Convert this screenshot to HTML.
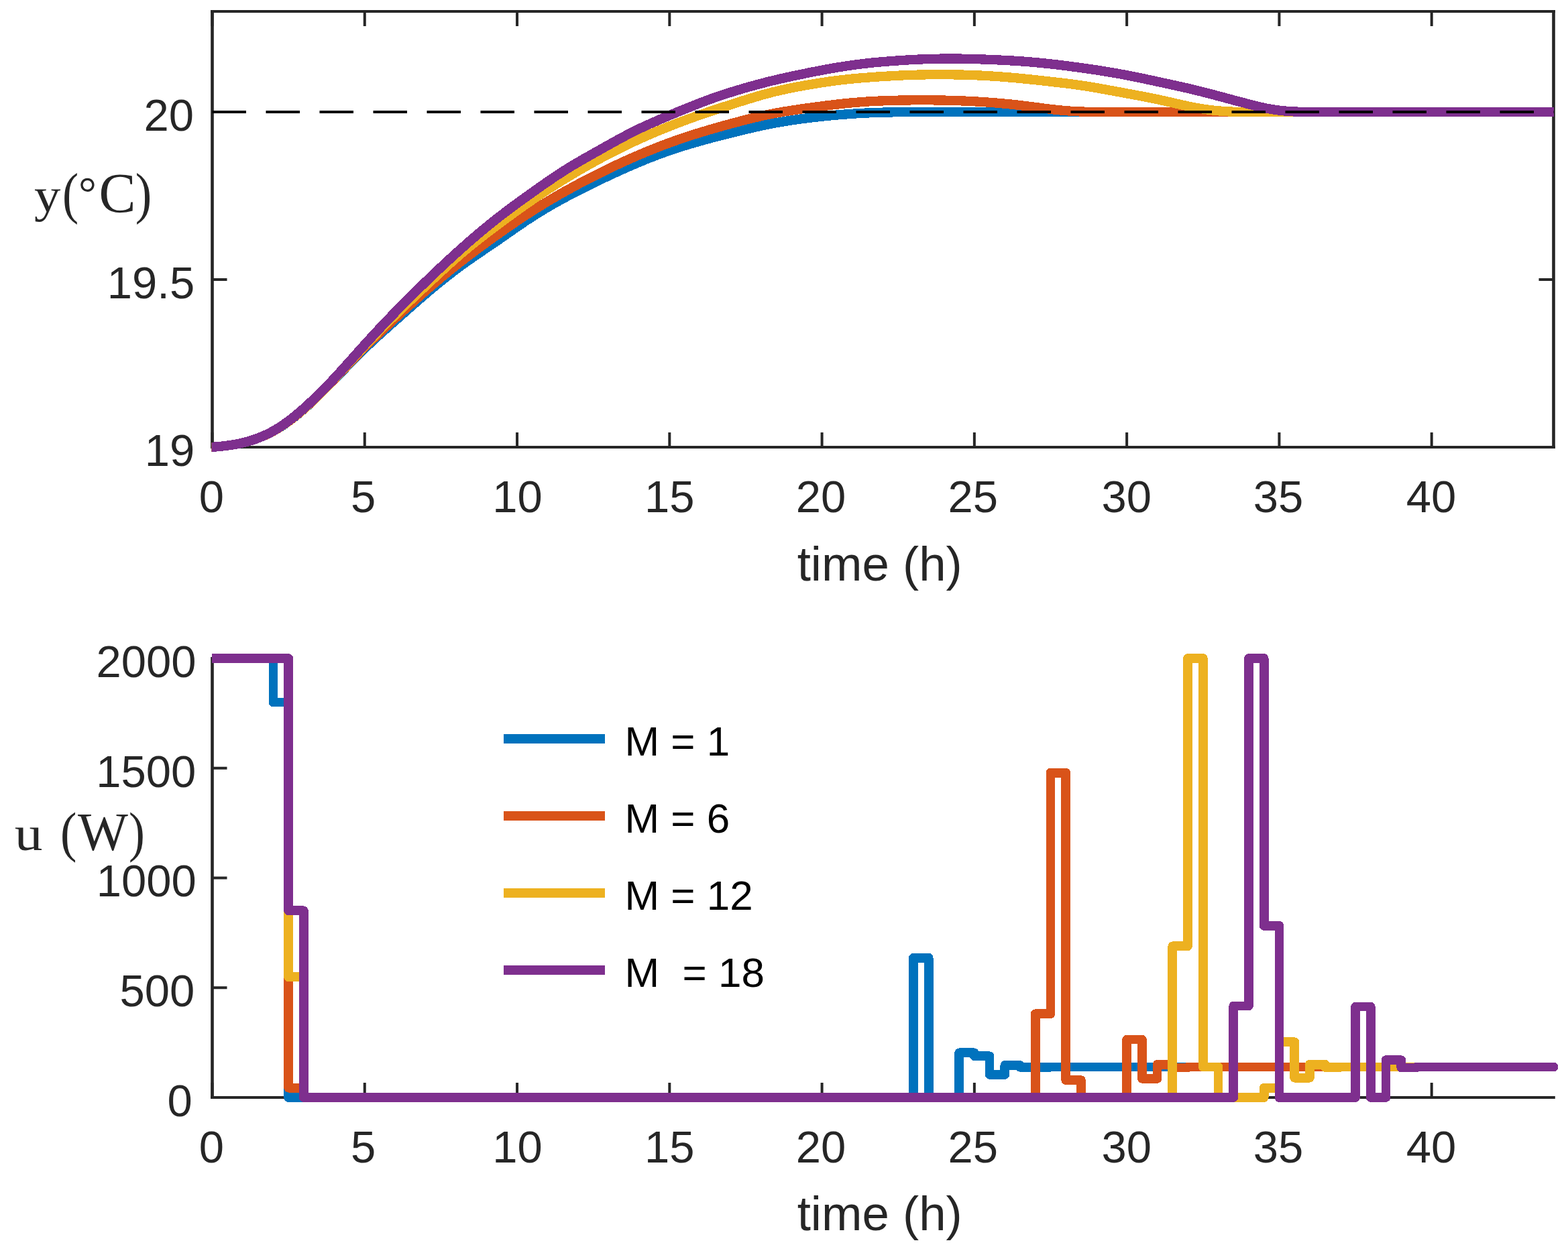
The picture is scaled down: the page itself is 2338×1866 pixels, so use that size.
<!DOCTYPE html>
<html><head><meta charset="utf-8"><title>Temperature and heating power</title>
<style>html,body{margin:0;padding:0;background:#fff;}svg{display:block;}.tk{font-family:"Liberation Sans",Arial,Helvetica,sans-serif;font-size:67px;fill:#262626;}.lb{font-family:"Liberation Sans",Arial,Helvetica,sans-serif;font-size:72.6px;fill:#262626;}.lg{font-family:"Liberation Sans",Arial,Helvetica,sans-serif;font-size:62px;fill:#000;white-space:pre;}.tex{font-family:"Liberation Serif","Times New Roman",serif;font-size:80px;fill:#262626;}</style></head><body>
<svg width="2338" height="1866" viewBox="0 0 2338 1866">
<rect x="0" y="0" width="2338" height="1866" fill="#fff"/>
<defs>
<clipPath id="cT"><rect x="315.5" y="10" width="2001.5" height="667"/></clipPath>
<clipPath id="cB"><rect x="316" y="900" width="2100" height="800"/></clipPath>
</defs>
<g fill="#262626">
<rect x="314.2" y="15.0" width="4.6" height="654.0"/>
<rect x="2314.2" y="15.0" width="4.6" height="654.0"/>
<rect x="314.2" y="15.0" width="2004.6" height="4"/>
<rect x="314.2" y="665.0" width="2004.6" height="4"/>
<rect x="314.50" y="645.0" width="4" height="22"/>
<rect x="314.50" y="17.0" width="4" height="22"/>
<rect x="541.77" y="645.0" width="4" height="22"/>
<rect x="541.77" y="17.0" width="4" height="22"/>
<rect x="769.05" y="645.0" width="4" height="22"/>
<rect x="769.05" y="17.0" width="4" height="22"/>
<rect x="996.32" y="645.0" width="4" height="22"/>
<rect x="996.32" y="17.0" width="4" height="22"/>
<rect x="1223.59" y="645.0" width="4" height="22"/>
<rect x="1223.59" y="17.0" width="4" height="22"/>
<rect x="1450.86" y="645.0" width="4" height="22"/>
<rect x="1450.86" y="17.0" width="4" height="22"/>
<rect x="1678.14" y="645.0" width="4" height="22"/>
<rect x="1678.14" y="17.0" width="4" height="22"/>
<rect x="1905.41" y="645.0" width="4" height="22"/>
<rect x="1905.41" y="17.0" width="4" height="22"/>
<rect x="2132.68" y="645.0" width="4" height="22"/>
<rect x="2132.68" y="17.0" width="4" height="22"/>
<rect x="316.5" y="665.00" width="22" height="4"/>
<rect x="2294.5" y="665.00" width="22" height="4"/>
<rect x="316.5" y="415.00" width="22" height="4"/>
<rect x="2294.5" y="415.00" width="22" height="4"/>
<rect x="316.5" y="165.00" width="22" height="4"/>
<rect x="2294.5" y="165.00" width="22" height="4"/>
</g>
<g clip-path="url(#cT)" fill="none" stroke-width="14.3" stroke-linejoin="round" stroke-linecap="round" shape-rendering="crispEdges">
<path d="M312.0,667.32 L315.0,667.06 L318.0,666.79 L321.0,666.52 L324.0,666.25 L327.0,665.96 L330.0,665.66 L333.0,665.34 L336.0,664.99 L339.0,664.62 L342.0,664.21 L345.0,663.77 L348.0,663.28 L351.0,662.76 L354.0,662.19 L357.0,661.57 L360.0,660.90 L363.0,660.18 L366.0,659.42 L369.0,658.61 L372.0,657.74 L375.0,656.83 L378.0,655.86 L381.0,654.83 L384.0,653.75 L387.0,652.61 L390.0,651.41 L393.0,650.14 L396.0,648.82 L399.0,647.42 L402.0,645.96 L405.0,644.42 L408.0,642.81 L411.0,641.13 L414.0,639.37 L417.0,637.55 L420.0,635.65 L423.0,633.68 L426.0,631.64 L429.0,629.53 L432.0,627.35 L435.0,625.11 L438.0,622.80 L441.0,620.42 L444.0,617.99 L447.0,615.49 L450.0,612.94 L453.0,610.33 L456.0,607.67 L459.0,604.96 L462.0,602.21 L465.0,599.41 L468.0,596.57 L471.0,593.69 L474.0,590.78 L477.0,587.84 L480.0,584.86 L483.0,581.86 L486.0,578.83 L489.0,575.78 L492.0,572.72 L495.0,569.64 L498.0,566.54 L501.0,563.43 L504.0,560.32 L507.0,557.21 L510.0,554.09 L513.0,550.98 L516.0,547.87 L519.0,544.77 L522.0,541.68 L525.0,538.60 L528.0,535.55 L531.0,532.51 L534.0,529.50 L537.0,526.51 L540.0,523.56 L543.0,520.64 L546.0,517.74 L549.0,514.88 L552.0,512.05 L555.0,509.23 L558.0,506.45 L561.0,503.68 L564.0,500.93 L567.0,498.20 L570.0,495.49 L573.0,492.78 L576.0,490.09 L579.0,487.41 L582.0,484.73 L585.0,482.06 L588.0,479.40 L591.0,476.73 L594.0,474.07 L597.0,471.40 L600.0,468.74 L603.0,466.08 L606.0,463.43 L609.0,460.78 L612.0,458.14 L615.0,455.50 L618.0,452.87 L621.0,450.26 L624.0,447.65 L627.0,445.05 L630.0,442.46 L633.0,439.89 L636.0,437.33 L639.0,434.79 L642.0,432.26 L645.0,429.75 L648.0,427.25 L651.0,424.78 L654.0,422.32 L657.0,419.88 L660.0,417.46 L663.0,415.06 L666.0,412.68 L669.0,410.33 L672.0,407.99 L675.0,405.68 L678.0,403.39 L681.0,401.12 L684.0,398.88 L687.0,396.66 L690.0,394.47 L693.0,392.30 L696.0,390.16 L699.0,388.04 L702.0,385.94 L705.0,383.85 L708.0,381.78 L711.0,379.72 L714.0,377.68 L717.0,375.64 L720.0,373.60 L723.0,371.57 L726.0,369.54 L729.0,367.50 L732.0,365.47 L735.0,363.42 L738.0,361.37 L741.0,359.31 L744.0,357.24 L747.0,355.15 L750.0,353.07 L753.0,350.97 L756.0,348.87 L759.0,346.78 L762.0,344.68 L765.0,342.59 L768.0,340.50 L771.0,338.43 L774.0,336.36 L777.0,334.30 L780.0,332.27 L783.0,330.24 L786.0,328.24 L789.0,326.26 L792.0,324.31 L795.0,322.37 L798.0,320.47 L801.0,318.58 L804.0,316.72 L807.0,314.88 L810.0,313.06 L813.0,311.26 L816.0,309.48 L819.0,307.72 L822.0,305.98 L825.0,304.26 L828.0,302.56 L831.0,300.88 L834.0,299.21 L837.0,297.56 L840.0,295.92 L843.0,294.30 L846.0,292.70 L849.0,291.11 L852.0,289.53 L855.0,287.97 L858.0,286.42 L861.0,284.88 L864.0,283.35 L867.0,281.83 L870.0,280.32 L873.0,278.83 L876.0,277.34 L879.0,275.86 L882.0,274.39 L885.0,272.93 L888.0,271.47 L891.0,270.02 L894.0,268.58 L897.0,267.14 L900.0,265.71 L903.0,264.29 L906.0,262.87 L909.0,261.46 L912.0,260.06 L915.0,258.67 L918.0,257.29 L921.0,255.91 L924.0,254.55 L927.0,253.19 L930.0,251.85 L933.0,250.51 L936.0,249.19 L939.0,247.87 L942.0,246.57 L945.0,245.28 L948.0,244.00 L951.0,242.73 L954.0,241.47 L957.0,240.23 L960.0,239.00 L963.0,237.78 L966.0,236.58 L969.0,235.39 L972.0,234.22 L975.0,233.05 L978.0,231.91 L981.0,230.78 L984.0,229.66 L987.0,228.56 L990.0,227.48 L993.0,226.41 L996.0,225.35 L999.0,224.32 L1002.0,223.30 L1005.0,222.29 L1008.0,221.30 L1011.0,220.32 L1014.0,219.35 L1017.0,218.40 L1020.0,217.46 L1023.0,216.54 L1026.0,215.62 L1029.0,214.72 L1032.0,213.83 L1035.0,212.95 L1038.0,212.08 L1041.0,211.22 L1044.0,210.37 L1047.0,209.53 L1050.0,208.70 L1053.0,207.88 L1056.0,207.07 L1059.0,206.26 L1062.0,205.47 L1065.0,204.68 L1068.0,203.89 L1071.0,203.12 L1074.0,202.35 L1077.0,201.58 L1080.0,200.82 L1083.0,200.07 L1086.0,199.32 L1089.0,198.58 L1092.0,197.84 L1095.0,197.10 L1098.0,196.36 L1101.0,195.63 L1104.0,194.90 L1107.0,194.18 L1110.0,193.46 L1113.0,192.74 L1116.0,192.03 L1119.0,191.33 L1122.0,190.63 L1125.0,189.95 L1128.0,189.27 L1131.0,188.60 L1134.0,187.94 L1137.0,187.29 L1140.0,186.65 L1143.0,186.03 L1146.0,185.42 L1149.0,184.82 L1152.0,184.24 L1155.0,183.67 L1158.0,183.12 L1161.0,182.58 L1164.0,182.05 L1167.0,181.54 L1170.0,181.04 L1173.0,180.55 L1176.0,180.08 L1179.0,179.61 L1182.0,179.16 L1185.0,178.72 L1188.0,178.29 L1191.0,177.87 L1194.0,177.46 L1197.0,177.06 L1200.0,176.67 L1203.0,176.29 L1206.0,175.92 L1209.0,175.55 L1212.0,175.20 L1215.0,174.85 L1218.0,174.51 L1221.0,174.18 L1224.0,173.86 L1227.0,173.54 L1230.0,173.23 L1233.0,172.93 L1236.0,172.64 L1239.0,172.35 L1242.0,172.07 L1245.0,171.80 L1248.0,171.54 L1251.0,171.28 L1254.0,171.03 L1257.0,170.79 L1260.0,170.55 L1263.0,170.32 L1266.0,170.10 L1269.0,169.89 L1272.0,169.68 L1275.0,169.48 L1278.0,169.29 L1281.0,169.11 L1284.0,168.94 L1287.0,168.78 L1290.0,168.62 L1293.0,168.47 L1296.0,168.34 L1299.0,168.21 L1302.0,168.09 L1305.0,167.98 L1308.0,167.88 L1311.0,167.79 L1314.0,167.71 L1317.0,167.63 L1320.0,167.56 L1323.0,167.50 L1326.0,167.44 L1329.0,167.39 L1332.0,167.35 L1335.0,167.31 L1338.0,167.27 L1341.0,167.24 L1344.0,167.21 L1347.0,167.18 L1350.0,167.16 L1353.0,167.14 L1356.0,167.12 L1359.0,167.10 L1362.0,167.08 L1365.0,167.07 L1368.0,167.05 L1371.0,167.04 L1374.0,167.03 L1377.0,167.02 L1380.0,167.02 L1383.0,167.01 L1386.0,167.01 L1389.0,167.00 L1392.0,167.00 L1395.0,167.00 L1398.0,167.00 L1401.0,167.00 L1404.0,167.00 L1407.0,167.00 L1410.0,167.00 L1413.0,167.00 L1416.0,167.00 L1419.0,167.01 L1422.0,167.01 L1425.0,167.02 L1428.0,167.02 L1431.0,167.03 L1434.0,167.03 L1437.0,167.04 L1440.0,167.05 L1443.0,167.05 L1446.0,167.06 L1449.0,167.07 L1452.0,167.08 L1455.0,167.08 L1458.0,167.09 L1461.0,167.10 L1464.0,167.11 L1467.0,167.12 L1470.0,167.12 L1473.0,167.13 L1476.0,167.14 L1479.0,167.15 L1482.0,167.16 L1485.0,167.16 L1488.0,167.17 L1491.0,167.18 L1494.0,167.18 L1497.0,167.19 L1500.0,167.20 L1503.0,167.20 L1506.0,167.21 L1509.0,167.21 L1512.0,167.22 L1515.0,167.22 L1518.0,167.22 L1521.0,167.23 L1524.0,167.23 L1527.0,167.23 L1530.0,167.24 L1533.0,167.24 L1536.0,167.24 L1539.0,167.24 L1542.0,167.24 L1545.0,167.24 L1548.0,167.24 L1551.0,167.24 L1554.0,167.24 L1557.0,167.24 L1560.0,167.24 L1563.0,167.24 L1566.0,167.24 L1569.0,167.23 L1572.0,167.23 L1575.0,167.23 L1578.0,167.23 L1581.0,167.22 L1584.0,167.22 L1587.0,167.22 L1590.0,167.21 L1593.0,167.21 L1596.0,167.20 L1599.0,167.20 L1602.0,167.20 L1605.0,167.19 L1608.0,167.18 L1611.0,167.18 L1614.0,167.17 L1617.0,167.17 L1620.0,167.16 L1623.0,167.15 L1626.0,167.15 L1629.0,167.14 L1632.0,167.14 L1635.0,167.13 L1638.0,167.12 L1641.0,167.12 L1644.0,167.11 L1647.0,167.10 L1650.0,167.10 L1653.0,167.09 L1656.0,167.08 L1659.0,167.08 L1662.0,167.07 L1665.0,167.06 L1668.0,167.06 L1671.0,167.05 L1674.0,167.04 L1677.0,167.04 L1680.0,167.03 L1683.0,167.03 L1686.0,167.02 L1689.0,167.02 L1692.0,167.01 L1695.0,167.01 L1698.0,167.01 L1701.0,167.00 L1704.0,167.00 L1707.0,167.00 L1710.0,166.99 L1713.0,166.99 L1716.0,166.99 L1719.0,166.99 L1722.0,166.99 L1725.0,166.98 L1728.0,166.98 L1731.0,166.98 L1734.0,166.98 L1737.0,166.98 L1740.0,166.98 L1743.0,166.98 L1746.0,166.98 L1749.0,166.98 L1752.0,166.98 L1755.0,166.98 L1758.0,166.98 L1761.0,166.99 L1764.0,166.99 L1767.0,166.99 L1770.0,166.99 L1773.0,166.99 L1776.0,166.99 L1779.0,166.99 L1782.0,166.99 L1785.0,166.99 L1788.0,166.99 L1791.0,167.00 L1794.0,167.00 L1797.0,167.00 L1800.0,167.00 L1803.0,167.00 L1806.0,167.00 L1809.0,167.00 L1812.0,167.00 L1815.0,167.00 L1818.0,167.00 L1821.0,167.00 L1824.0,167.00 L1827.0,167.00 L1830.0,167.00 L1833.0,167.00 L1836.0,167.00 L1839.0,167.00 L1842.0,167.00 L1845.0,167.00 L1848.0,167.00 L1851.0,167.00 L1854.0,167.00 L1857.0,167.00 L1860.0,167.00 L1863.0,167.00 L1866.0,167.00 L1869.0,167.00 L1872.0,167.00 L1875.0,167.00 L1878.0,167.00 L1881.0,167.00 L1884.0,167.00 L1887.0,167.00 L1890.0,167.00 L1893.0,167.00 L1896.0,167.00 L1899.0,167.00 L1902.0,167.00 L1905.0,167.00 L1908.0,167.00 L1911.0,167.00 L1914.0,167.00 L1917.0,167.00 L1920.0,167.00 L1923.0,167.00 L1926.0,167.00 L1929.0,167.00 L1932.0,167.00 L1935.0,167.00 L1938.0,167.00 L1941.0,167.00 L1944.0,167.00 L1947.0,167.00 L1950.0,167.00 L1953.0,167.00 L1956.0,167.00 L1959.0,167.00 L1962.0,167.00 L1965.0,167.00 L1968.0,167.00 L1971.0,167.00 L1974.0,167.00 L1977.0,167.00 L1980.0,167.00 L1983.0,167.00 L1986.0,167.00 L1989.0,167.00 L1992.0,167.00 L1995.0,167.00 L1998.0,167.00 L2001.0,167.00 L2004.0,167.00 L2007.0,167.00 L2010.0,167.00 L2013.0,167.00 L2016.0,167.00 L2019.0,167.00 L2022.0,167.00 L2025.0,167.00 L2028.0,167.00 L2031.0,167.00 L2034.0,167.00 L2037.0,167.00 L2040.0,167.00 L2043.0,167.00 L2046.0,167.00 L2049.0,167.00 L2052.0,167.00 L2055.0,167.00 L2058.0,167.00 L2061.0,167.00 L2064.0,167.00 L2067.0,167.00 L2070.0,167.00 L2073.0,167.00 L2076.0,167.00 L2079.0,167.00 L2082.0,167.00 L2085.0,167.00 L2088.0,167.00 L2091.0,167.00 L2094.0,167.00 L2097.0,167.00 L2100.0,167.00 L2103.0,167.00 L2106.0,167.00 L2109.0,167.00 L2112.0,167.00 L2115.0,167.00 L2118.0,167.00 L2121.0,167.00 L2124.0,167.00 L2127.0,167.00 L2130.0,167.00 L2133.0,167.00 L2136.0,167.00 L2139.0,167.00 L2142.0,167.00 L2145.0,167.00 L2148.0,167.00 L2151.0,167.00 L2154.0,167.00 L2157.0,167.00 L2160.0,167.00 L2163.0,167.00 L2166.0,167.00 L2169.0,167.00 L2172.0,167.00 L2175.0,167.00 L2178.0,167.00 L2181.0,167.00 L2184.0,167.00 L2187.0,167.00 L2190.0,167.00 L2193.0,167.00 L2196.0,167.00 L2199.0,167.00 L2202.0,167.00 L2205.0,167.00 L2208.0,167.00 L2211.0,167.00 L2214.0,167.00 L2217.0,167.00 L2220.0,167.00 L2223.0,167.00 L2226.0,167.00 L2229.0,167.00 L2232.0,167.00 L2235.0,167.00 L2238.0,167.00 L2241.0,167.00 L2244.0,167.00 L2247.0,167.00 L2250.0,167.00 L2253.0,167.00 L2256.0,167.00 L2259.0,167.00 L2262.0,167.00 L2265.0,167.00 L2268.0,167.00 L2271.0,167.00 L2274.0,167.00 L2277.0,167.00 L2280.0,167.00 L2283.0,167.00 L2286.0,167.00 L2289.0,167.00 L2292.0,167.00 L2295.0,167.00 L2298.0,167.00 L2301.0,167.00 L2304.0,167.00 L2307.0,167.00 L2310.0,167.00 L2313.0,167.00 L2316.0,167.00 L2319.0,167.00 L2322.0,167.00" stroke="#0072BD"/>
<path d="M312.0,667.32 L315.0,667.06 L318.0,666.79 L321.0,666.52 L324.0,666.25 L327.0,665.96 L330.0,665.66 L333.0,665.34 L336.0,664.99 L339.0,664.62 L342.0,664.21 L345.0,663.77 L348.0,663.29 L351.0,662.76 L354.0,662.19 L357.0,661.57 L360.0,660.90 L363.0,660.19 L366.0,659.42 L369.0,658.61 L372.0,657.75 L375.0,656.83 L378.0,655.86 L381.0,654.83 L384.0,653.75 L387.0,652.60 L390.0,651.40 L393.0,650.13 L396.0,648.80 L399.0,647.39 L402.0,645.92 L405.0,644.37 L408.0,642.75 L411.0,641.06 L414.0,639.30 L417.0,637.46 L420.0,635.55 L423.0,633.57 L426.0,631.53 L429.0,629.41 L432.0,627.23 L435.0,624.98 L438.0,622.67 L441.0,620.30 L444.0,617.86 L447.0,615.37 L450.0,612.82 L453.0,610.21 L456.0,607.56 L459.0,604.85 L462.0,602.09 L465.0,599.29 L468.0,596.45 L471.0,593.56 L474.0,590.64 L477.0,587.67 L480.0,584.68 L483.0,581.65 L486.0,578.59 L489.0,575.50 L492.0,572.39 L495.0,569.25 L498.0,566.09 L501.0,562.92 L504.0,559.74 L507.0,556.54 L510.0,553.34 L513.0,550.14 L516.0,546.94 L519.0,543.74 L522.0,540.55 L525.0,537.37 L528.0,534.21 L531.0,531.06 L534.0,527.93 L537.0,524.83 L540.0,521.76 L543.0,518.72 L546.0,515.71 L549.0,512.73 L552.0,509.77 L555.0,506.84 L558.0,503.93 L561.0,501.05 L564.0,498.18 L567.0,495.33 L570.0,492.50 L573.0,489.69 L576.0,486.89 L579.0,484.10 L582.0,481.32 L585.0,478.55 L588.0,475.78 L591.0,473.02 L594.0,470.27 L597.0,467.52 L600.0,464.77 L603.0,462.04 L606.0,459.31 L609.0,456.58 L612.0,453.87 L615.0,451.16 L618.0,448.47 L621.0,445.78 L624.0,443.11 L627.0,440.45 L630.0,437.80 L633.0,435.16 L636.0,432.54 L639.0,429.93 L642.0,427.34 L645.0,424.77 L648.0,422.20 L651.0,419.66 L654.0,417.13 L657.0,414.62 L660.0,412.12 L663.0,409.63 L666.0,407.17 L669.0,404.72 L672.0,402.28 L675.0,399.87 L678.0,397.46 L681.0,395.08 L684.0,392.71 L687.0,390.36 L690.0,388.02 L693.0,385.70 L696.0,383.39 L699.0,381.11 L702.0,378.83 L705.0,376.57 L708.0,374.33 L711.0,372.09 L714.0,369.87 L717.0,367.67 L720.0,365.47 L723.0,363.28 L726.0,361.11 L729.0,358.94 L732.0,356.79 L735.0,354.64 L738.0,352.50 L741.0,350.37 L744.0,348.24 L747.0,346.12 L750.0,344.02 L753.0,341.92 L756.0,339.83 L759.0,337.75 L762.0,335.68 L765.0,333.62 L768.0,331.58 L771.0,329.54 L774.0,327.52 L777.0,325.51 L780.0,323.52 L783.0,321.54 L786.0,319.58 L789.0,317.63 L792.0,315.70 L795.0,313.78 L798.0,311.88 L801.0,310.00 L804.0,308.13 L807.0,306.28 L810.0,304.44 L813.0,302.62 L816.0,300.81 L819.0,299.02 L822.0,297.24 L825.0,295.48 L828.0,293.73 L831.0,291.99 L834.0,290.27 L837.0,288.56 L840.0,286.86 L843.0,285.18 L846.0,283.51 L849.0,281.85 L852.0,280.20 L855.0,278.57 L858.0,276.94 L861.0,275.33 L864.0,273.73 L867.0,272.14 L870.0,270.57 L873.0,269.00 L876.0,267.44 L879.0,265.90 L882.0,264.36 L885.0,262.84 L888.0,261.32 L891.0,259.81 L894.0,258.31 L897.0,256.83 L900.0,255.35 L903.0,253.88 L906.0,252.42 L909.0,250.97 L912.0,249.53 L915.0,248.10 L918.0,246.68 L921.0,245.27 L924.0,243.88 L927.0,242.49 L930.0,241.11 L933.0,239.75 L936.0,238.39 L939.0,237.05 L942.0,235.72 L945.0,234.40 L948.0,233.09 L951.0,231.79 L954.0,230.51 L957.0,229.23 L960.0,227.97 L963.0,226.72 L966.0,225.48 L969.0,224.26 L972.0,223.05 L975.0,221.85 L978.0,220.66 L981.0,219.48 L984.0,218.32 L987.0,217.17 L990.0,216.04 L993.0,214.92 L996.0,213.81 L999.0,212.71 L1002.0,211.63 L1005.0,210.55 L1008.0,209.50 L1011.0,208.45 L1014.0,207.41 L1017.0,206.39 L1020.0,205.38 L1023.0,204.38 L1026.0,203.38 L1029.0,202.40 L1032.0,201.44 L1035.0,200.48 L1038.0,199.53 L1041.0,198.59 L1044.0,197.66 L1047.0,196.74 L1050.0,195.83 L1053.0,194.93 L1056.0,194.03 L1059.0,193.15 L1062.0,192.27 L1065.0,191.40 L1068.0,190.54 L1071.0,189.69 L1074.0,188.84 L1077.0,188.01 L1080.0,187.17 L1083.0,186.35 L1086.0,185.53 L1089.0,184.72 L1092.0,183.91 L1095.0,183.12 L1098.0,182.32 L1101.0,181.53 L1104.0,180.75 L1107.0,179.97 L1110.0,179.21 L1113.0,178.44 L1116.0,177.69 L1119.0,176.95 L1122.0,176.21 L1125.0,175.49 L1128.0,174.78 L1131.0,174.08 L1134.0,173.39 L1137.0,172.72 L1140.0,172.06 L1143.0,171.41 L1146.0,170.79 L1149.0,170.17 L1152.0,169.58 L1155.0,169.00 L1158.0,168.44 L1161.0,167.89 L1164.0,167.36 L1167.0,166.84 L1170.0,166.33 L1173.0,165.84 L1176.0,165.35 L1179.0,164.88 L1182.0,164.42 L1185.0,163.96 L1188.0,163.51 L1191.0,163.07 L1194.0,162.64 L1197.0,162.21 L1200.0,161.78 L1203.0,161.36 L1206.0,160.94 L1209.0,160.53 L1212.0,160.12 L1215.0,159.71 L1218.0,159.31 L1221.0,158.92 L1224.0,158.53 L1227.0,158.14 L1230.0,157.76 L1233.0,157.39 L1236.0,157.02 L1239.0,156.66 L1242.0,156.31 L1245.0,155.96 L1248.0,155.62 L1251.0,155.29 L1254.0,154.96 L1257.0,154.64 L1260.0,154.33 L1263.0,154.03 L1266.0,153.74 L1269.0,153.46 L1272.0,153.18 L1275.0,152.92 L1278.0,152.66 L1281.0,152.42 L1284.0,152.19 L1287.0,151.96 L1290.0,151.75 L1293.0,151.55 L1296.0,151.36 L1299.0,151.18 L1302.0,151.01 L1305.0,150.85 L1308.0,150.71 L1311.0,150.57 L1314.0,150.45 L1317.0,150.33 L1320.0,150.22 L1323.0,150.12 L1326.0,150.02 L1329.0,149.93 L1332.0,149.84 L1335.0,149.76 L1338.0,149.69 L1341.0,149.63 L1344.0,149.57 L1347.0,149.51 L1350.0,149.46 L1353.0,149.42 L1356.0,149.38 L1359.0,149.35 L1362.0,149.33 L1365.0,149.31 L1368.0,149.29 L1371.0,149.28 L1374.0,149.28 L1377.0,149.28 L1380.0,149.28 L1383.0,149.29 L1386.0,149.31 L1389.0,149.33 L1392.0,149.36 L1395.0,149.39 L1398.0,149.43 L1401.0,149.48 L1404.0,149.53 L1407.0,149.59 L1410.0,149.65 L1413.0,149.72 L1416.0,149.80 L1419.0,149.88 L1422.0,149.97 L1425.0,150.07 L1428.0,150.17 L1431.0,150.29 L1434.0,150.40 L1437.0,150.53 L1440.0,150.66 L1443.0,150.80 L1446.0,150.94 L1449.0,151.10 L1452.0,151.26 L1455.0,151.42 L1458.0,151.60 L1461.0,151.78 L1464.0,151.97 L1467.0,152.17 L1470.0,152.37 L1473.0,152.59 L1476.0,152.81 L1479.0,153.03 L1482.0,153.27 L1485.0,153.51 L1488.0,153.76 L1491.0,154.02 L1494.0,154.29 L1497.0,154.57 L1500.0,154.85 L1503.0,155.14 L1506.0,155.44 L1509.0,155.75 L1512.0,156.07 L1515.0,156.40 L1518.0,156.73 L1521.0,157.08 L1524.0,157.43 L1527.0,157.80 L1530.0,158.17 L1533.0,158.55 L1536.0,158.94 L1539.0,159.33 L1542.0,159.72 L1545.0,160.11 L1548.0,160.51 L1551.0,160.90 L1554.0,161.29 L1557.0,161.67 L1560.0,162.05 L1563.0,162.42 L1566.0,162.79 L1569.0,163.14 L1572.0,163.48 L1575.0,163.80 L1578.0,164.11 L1581.0,164.41 L1584.0,164.69 L1587.0,164.95 L1590.0,165.20 L1593.0,165.43 L1596.0,165.64 L1599.0,165.83 L1602.0,166.01 L1605.0,166.17 L1608.0,166.32 L1611.0,166.45 L1614.0,166.56 L1617.0,166.66 L1620.0,166.75 L1623.0,166.83 L1626.0,166.89 L1629.0,166.95 L1632.0,166.99 L1635.0,167.02 L1638.0,167.05 L1641.0,167.07 L1644.0,167.09 L1647.0,167.10 L1650.0,167.10 L1653.0,167.11 L1656.0,167.11 L1659.0,167.11 L1662.0,167.11 L1665.0,167.11 L1668.0,167.10 L1671.0,167.10 L1674.0,167.09 L1677.0,167.09 L1680.0,167.08 L1683.0,167.07 L1686.0,167.06 L1689.0,167.05 L1692.0,167.04 L1695.0,167.04 L1698.0,167.03 L1701.0,167.02 L1704.0,167.01 L1707.0,167.01 L1710.0,167.00 L1713.0,167.00 L1716.0,166.99 L1719.0,166.99 L1722.0,166.98 L1725.0,166.98 L1728.0,166.98 L1731.0,166.98 L1734.0,166.97 L1737.0,166.97 L1740.0,166.97 L1743.0,166.97 L1746.0,166.97 L1749.0,166.97 L1752.0,166.97 L1755.0,166.97 L1758.0,166.97 L1761.0,166.98 L1764.0,166.98 L1767.0,166.98 L1770.0,166.98 L1773.0,166.98 L1776.0,166.98 L1779.0,166.98 L1782.0,166.99 L1785.0,166.99 L1788.0,166.99 L1791.0,166.99 L1794.0,166.99 L1797.0,167.00 L1800.0,167.00 L1803.0,167.00 L1806.0,167.00 L1809.0,167.00 L1812.0,167.00 L1815.0,167.00 L1818.0,167.00 L1821.0,167.00 L1824.0,167.00 L1827.0,167.01 L1830.0,167.01 L1833.0,167.01 L1836.0,167.01 L1839.0,167.01 L1842.0,167.01 L1845.0,167.01 L1848.0,167.01 L1851.0,167.01 L1854.0,167.01 L1857.0,167.01 L1860.0,167.01 L1863.0,167.01 L1866.0,167.00 L1869.0,167.00 L1872.0,167.00 L1875.0,167.00 L1878.0,167.00 L1881.0,167.00 L1884.0,167.00 L1887.0,167.00 L1890.0,167.00 L1893.0,167.00 L1896.0,167.00 L1899.0,167.00 L1902.0,167.00 L1905.0,167.00 L1908.0,167.00 L1911.0,167.00 L1914.0,167.00 L1917.0,167.00 L1920.0,167.00 L1923.0,167.00 L1926.0,167.00 L1929.0,167.00 L1932.0,167.00 L1935.0,167.00 L1938.0,167.00 L1941.0,167.00 L1944.0,167.00 L1947.0,167.00 L1950.0,167.00 L1953.0,167.00 L1956.0,167.00 L1959.0,167.00 L1962.0,167.00 L1965.0,167.00 L1968.0,167.00 L1971.0,167.00 L1974.0,167.00 L1977.0,167.00 L1980.0,167.00 L1983.0,167.00 L1986.0,167.00 L1989.0,167.00 L1992.0,167.00 L1995.0,167.00 L1998.0,167.00 L2001.0,167.00 L2004.0,167.00 L2007.0,167.00 L2010.0,167.00 L2013.0,167.00 L2016.0,167.00 L2019.0,167.00 L2022.0,167.00 L2025.0,167.00 L2028.0,167.00 L2031.0,167.00 L2034.0,167.00 L2037.0,167.00 L2040.0,167.00 L2043.0,167.00 L2046.0,167.00 L2049.0,167.00 L2052.0,167.00 L2055.0,167.00 L2058.0,167.00 L2061.0,167.00 L2064.0,167.00 L2067.0,167.00 L2070.0,167.00 L2073.0,167.00 L2076.0,167.00 L2079.0,167.00 L2082.0,167.00 L2085.0,167.00 L2088.0,167.00 L2091.0,167.00 L2094.0,167.00 L2097.0,167.00 L2100.0,167.00 L2103.0,167.00 L2106.0,167.00 L2109.0,167.00 L2112.0,167.00 L2115.0,167.00 L2118.0,167.00 L2121.0,167.00 L2124.0,167.00 L2127.0,167.00 L2130.0,167.00 L2133.0,167.00 L2136.0,167.00 L2139.0,167.00 L2142.0,167.00 L2145.0,167.00 L2148.0,167.00 L2151.0,167.00 L2154.0,167.00 L2157.0,167.00 L2160.0,167.00 L2163.0,167.00 L2166.0,167.00 L2169.0,167.00 L2172.0,167.00 L2175.0,167.00 L2178.0,167.00 L2181.0,167.00 L2184.0,167.00 L2187.0,167.00 L2190.0,167.00 L2193.0,167.00 L2196.0,167.00 L2199.0,167.00 L2202.0,167.00 L2205.0,167.00 L2208.0,167.00 L2211.0,167.00 L2214.0,167.00 L2217.0,167.00 L2220.0,167.00 L2223.0,167.00 L2226.0,167.00 L2229.0,167.00 L2232.0,167.00 L2235.0,167.00 L2238.0,167.00 L2241.0,167.00 L2244.0,167.00 L2247.0,167.00 L2250.0,167.00 L2253.0,167.00 L2256.0,167.00 L2259.0,167.00 L2262.0,167.00 L2265.0,167.00 L2268.0,167.00 L2271.0,167.00 L2274.0,167.00 L2277.0,167.00 L2280.0,167.00 L2283.0,167.00 L2286.0,167.00 L2289.0,167.00 L2292.0,167.00 L2295.0,167.00 L2298.0,167.00 L2301.0,167.00 L2304.0,167.00 L2307.0,167.00 L2310.0,167.00 L2313.0,167.00 L2316.0,167.00 L2319.0,167.00 L2322.0,167.00" stroke="#D95319"/>
<path d="M312.0,667.32 L315.0,667.05 L318.0,666.79 L321.0,666.52 L324.0,666.25 L327.0,665.96 L330.0,665.66 L333.0,665.34 L336.0,664.99 L339.0,664.62 L342.0,664.21 L345.0,663.77 L348.0,663.29 L351.0,662.77 L354.0,662.20 L357.0,661.58 L360.0,660.91 L363.0,660.20 L366.0,659.43 L369.0,658.62 L372.0,657.76 L375.0,656.84 L378.0,655.87 L381.0,654.84 L384.0,653.75 L387.0,652.60 L390.0,651.39 L393.0,650.12 L396.0,648.77 L399.0,647.36 L402.0,645.88 L405.0,644.32 L408.0,642.69 L411.0,640.98 L414.0,639.20 L417.0,637.35 L420.0,635.42 L423.0,633.43 L426.0,631.37 L429.0,629.24 L432.0,627.05 L435.0,624.79 L438.0,622.47 L441.0,620.09 L444.0,617.65 L447.0,615.16 L450.0,612.60 L453.0,610.00 L456.0,607.34 L459.0,604.64 L462.0,601.88 L465.0,599.08 L468.0,596.23 L471.0,593.34 L474.0,590.41 L477.0,587.43 L480.0,584.42 L483.0,581.38 L486.0,578.29 L489.0,575.18 L492.0,572.03 L495.0,568.85 L498.0,565.65 L501.0,562.42 L504.0,559.18 L507.0,555.92 L510.0,552.65 L513.0,549.37 L516.0,546.08 L519.0,542.79 L522.0,539.49 L525.0,536.21 L528.0,532.92 L531.0,529.65 L534.0,526.39 L537.0,523.15 L540.0,519.93 L543.0,516.73 L546.0,513.55 L549.0,510.39 L552.0,507.25 L555.0,504.14 L558.0,501.04 L561.0,497.96 L564.0,494.90 L567.0,491.86 L570.0,488.83 L573.0,485.83 L576.0,482.83 L579.0,479.85 L582.0,476.89 L585.0,473.94 L588.0,471.00 L591.0,468.08 L594.0,465.17 L597.0,462.27 L600.0,459.38 L603.0,456.50 L606.0,453.62 L609.0,450.76 L612.0,447.91 L615.0,445.06 L618.0,442.22 L621.0,439.39 L624.0,436.56 L627.0,433.73 L630.0,430.91 L633.0,428.10 L636.0,425.28 L639.0,422.47 L642.0,419.66 L645.0,416.85 L648.0,414.05 L651.0,411.25 L654.0,408.46 L657.0,405.68 L660.0,402.91 L663.0,400.15 L666.0,397.41 L669.0,394.68 L672.0,391.98 L675.0,389.29 L678.0,386.62 L681.0,383.98 L684.0,381.36 L687.0,378.76 L690.0,376.20 L693.0,373.66 L696.0,371.16 L699.0,368.68 L702.0,366.23 L705.0,363.80 L708.0,361.39 L711.0,359.01 L714.0,356.64 L717.0,354.30 L720.0,351.97 L723.0,349.66 L726.0,347.36 L729.0,345.08 L732.0,342.81 L735.0,340.55 L738.0,338.29 L741.0,336.05 L744.0,333.81 L747.0,331.58 L750.0,329.36 L753.0,327.14 L756.0,324.93 L759.0,322.74 L762.0,320.55 L765.0,318.37 L768.0,316.20 L771.0,314.04 L774.0,311.90 L777.0,309.76 L780.0,307.64 L783.0,305.53 L786.0,303.43 L789.0,301.34 L792.0,299.27 L795.0,297.21 L798.0,295.17 L801.0,293.14 L804.0,291.12 L807.0,289.12 L810.0,287.13 L813.0,285.15 L816.0,283.19 L819.0,281.24 L822.0,279.31 L825.0,277.38 L828.0,275.47 L831.0,273.58 L834.0,271.70 L837.0,269.83 L840.0,267.97 L843.0,266.13 L846.0,264.30 L849.0,262.49 L852.0,260.69 L855.0,258.90 L858.0,257.12 L861.0,255.36 L864.0,253.61 L867.0,251.88 L870.0,250.15 L873.0,248.44 L876.0,246.75 L879.0,245.06 L882.0,243.39 L885.0,241.74 L888.0,240.09 L891.0,238.46 L894.0,236.84 L897.0,235.23 L900.0,233.64 L903.0,232.06 L906.0,230.49 L909.0,228.94 L912.0,227.39 L915.0,225.86 L918.0,224.35 L921.0,222.84 L924.0,221.35 L927.0,219.87 L930.0,218.40 L933.0,216.95 L936.0,215.51 L939.0,214.08 L942.0,212.66 L945.0,211.25 L948.0,209.86 L951.0,208.48 L954.0,207.11 L957.0,205.75 L960.0,204.41 L963.0,203.08 L966.0,201.76 L969.0,200.45 L972.0,199.15 L975.0,197.87 L978.0,196.60 L981.0,195.33 L984.0,194.09 L987.0,192.85 L990.0,191.62 L993.0,190.41 L996.0,189.21 L999.0,188.02 L1002.0,186.84 L1005.0,185.67 L1008.0,184.51 L1011.0,183.36 L1014.0,182.22 L1017.0,181.09 L1020.0,179.97 L1023.0,178.86 L1026.0,177.76 L1029.0,176.67 L1032.0,175.59 L1035.0,174.51 L1038.0,173.44 L1041.0,172.38 L1044.0,171.33 L1047.0,170.29 L1050.0,169.25 L1053.0,168.22 L1056.0,167.19 L1059.0,166.17 L1062.0,165.16 L1065.0,164.15 L1068.0,163.15 L1071.0,162.16 L1074.0,161.17 L1077.0,160.18 L1080.0,159.20 L1083.0,158.22 L1086.0,157.25 L1089.0,156.28 L1092.0,155.31 L1095.0,154.35 L1098.0,153.39 L1101.0,152.44 L1104.0,151.48 L1107.0,150.53 L1110.0,149.59 L1113.0,148.65 L1116.0,147.72 L1119.0,146.80 L1122.0,145.88 L1125.0,144.98 L1128.0,144.09 L1131.0,143.21 L1134.0,142.35 L1137.0,141.50 L1140.0,140.66 L1143.0,139.84 L1146.0,139.04 L1149.0,138.26 L1152.0,137.50 L1155.0,136.76 L1158.0,136.04 L1161.0,135.33 L1164.0,134.65 L1167.0,133.98 L1170.0,133.32 L1173.0,132.68 L1176.0,132.06 L1179.0,131.44 L1182.0,130.84 L1185.0,130.26 L1188.0,129.68 L1191.0,129.11 L1194.0,128.56 L1197.0,128.01 L1200.0,127.47 L1203.0,126.94 L1206.0,126.41 L1209.0,125.89 L1212.0,125.38 L1215.0,124.88 L1218.0,124.39 L1221.0,123.91 L1224.0,123.44 L1227.0,122.97 L1230.0,122.52 L1233.0,122.08 L1236.0,121.65 L1239.0,121.23 L1242.0,120.82 L1245.0,120.43 L1248.0,120.05 L1251.0,119.68 L1254.0,119.32 L1257.0,118.98 L1260.0,118.65 L1263.0,118.33 L1266.0,118.02 L1269.0,117.72 L1272.0,117.43 L1275.0,117.15 L1278.0,116.88 L1281.0,116.62 L1284.0,116.37 L1287.0,116.12 L1290.0,115.89 L1293.0,115.65 L1296.0,115.43 L1299.0,115.21 L1302.0,114.99 L1305.0,114.78 L1308.0,114.57 L1311.0,114.37 L1314.0,114.17 L1317.0,113.98 L1320.0,113.79 L1323.0,113.61 L1326.0,113.43 L1329.0,113.26 L1332.0,113.10 L1335.0,112.94 L1338.0,112.79 L1341.0,112.64 L1344.0,112.50 L1347.0,112.36 L1350.0,112.24 L1353.0,112.12 L1356.0,112.00 L1359.0,111.89 L1362.0,111.79 L1365.0,111.70 L1368.0,111.62 L1371.0,111.54 L1374.0,111.47 L1377.0,111.41 L1380.0,111.36 L1383.0,111.31 L1386.0,111.27 L1389.0,111.24 L1392.0,111.22 L1395.0,111.20 L1398.0,111.19 L1401.0,111.19 L1404.0,111.19 L1407.0,111.20 L1410.0,111.22 L1413.0,111.24 L1416.0,111.27 L1419.0,111.31 L1422.0,111.36 L1425.0,111.40 L1428.0,111.46 L1431.0,111.52 L1434.0,111.59 L1437.0,111.67 L1440.0,111.75 L1443.0,111.84 L1446.0,111.94 L1449.0,112.04 L1452.0,112.15 L1455.0,112.27 L1458.0,112.40 L1461.0,112.53 L1464.0,112.68 L1467.0,112.83 L1470.0,112.99 L1473.0,113.16 L1476.0,113.33 L1479.0,113.52 L1482.0,113.71 L1485.0,113.92 L1488.0,114.13 L1491.0,114.35 L1494.0,114.57 L1497.0,114.81 L1500.0,115.05 L1503.0,115.30 L1506.0,115.55 L1509.0,115.81 L1512.0,116.08 L1515.0,116.35 L1518.0,116.63 L1521.0,116.91 L1524.0,117.20 L1527.0,117.50 L1530.0,117.80 L1533.0,118.10 L1536.0,118.41 L1539.0,118.72 L1542.0,119.04 L1545.0,119.36 L1548.0,119.69 L1551.0,120.01 L1554.0,120.34 L1557.0,120.68 L1560.0,121.01 L1563.0,121.35 L1566.0,121.69 L1569.0,122.03 L1572.0,122.37 L1575.0,122.72 L1578.0,123.06 L1581.0,123.41 L1584.0,123.76 L1587.0,124.11 L1590.0,124.47 L1593.0,124.84 L1596.0,125.22 L1599.0,125.61 L1602.0,126.01 L1605.0,126.42 L1608.0,126.85 L1611.0,127.29 L1614.0,127.74 L1617.0,128.19 L1620.0,128.66 L1623.0,129.14 L1626.0,129.63 L1629.0,130.13 L1632.0,130.63 L1635.0,131.15 L1638.0,131.66 L1641.0,132.19 L1644.0,132.72 L1647.0,133.26 L1650.0,133.80 L1653.0,134.34 L1656.0,134.89 L1659.0,135.44 L1662.0,136.00 L1665.0,136.56 L1668.0,137.11 L1671.0,137.67 L1674.0,138.23 L1677.0,138.79 L1680.0,139.35 L1683.0,139.91 L1686.0,140.46 L1689.0,141.02 L1692.0,141.58 L1695.0,142.14 L1698.0,142.71 L1701.0,143.27 L1704.0,143.85 L1707.0,144.42 L1710.0,145.01 L1713.0,145.60 L1716.0,146.20 L1719.0,146.80 L1722.0,147.42 L1725.0,148.04 L1728.0,148.68 L1731.0,149.33 L1734.0,149.99 L1737.0,150.66 L1740.0,151.34 L1743.0,152.02 L1746.0,152.71 L1749.0,153.40 L1752.0,154.09 L1755.0,154.77 L1758.0,155.45 L1761.0,156.13 L1764.0,156.80 L1767.0,157.45 L1770.0,158.10 L1773.0,158.73 L1776.0,159.34 L1779.0,159.94 L1782.0,160.51 L1785.0,161.07 L1788.0,161.59 L1791.0,162.10 L1794.0,162.57 L1797.0,163.02 L1800.0,163.44 L1803.0,163.84 L1806.0,164.21 L1809.0,164.55 L1812.0,164.87 L1815.0,165.16 L1818.0,165.43 L1821.0,165.68 L1824.0,165.90 L1827.0,166.10 L1830.0,166.28 L1833.0,166.44 L1836.0,166.57 L1839.0,166.69 L1842.0,166.79 L1845.0,166.87 L1848.0,166.94 L1851.0,166.99 L1854.0,167.03 L1857.0,167.07 L1860.0,167.09 L1863.0,167.10 L1866.0,167.11 L1869.0,167.12 L1872.0,167.12 L1875.0,167.12 L1878.0,167.12 L1881.0,167.11 L1884.0,167.11 L1887.0,167.10 L1890.0,167.09 L1893.0,167.08 L1896.0,167.06 L1899.0,167.05 L1902.0,167.04 L1905.0,167.03 L1908.0,167.03 L1911.0,167.02 L1914.0,167.01 L1917.0,167.01 L1920.0,167.00 L1923.0,167.00 L1926.0,166.99 L1929.0,166.99 L1932.0,166.98 L1935.0,166.98 L1938.0,166.98 L1941.0,166.98 L1944.0,166.98 L1947.0,166.98 L1950.0,166.98 L1953.0,166.98 L1956.0,166.98 L1959.0,166.98 L1962.0,166.98 L1965.0,166.98 L1968.0,166.98 L1971.0,166.98 L1974.0,166.98 L1977.0,166.98 L1980.0,166.98 L1983.0,166.99 L1986.0,166.99 L1989.0,166.99 L1992.0,166.99 L1995.0,166.99 L1998.0,167.00 L2001.0,167.00 L2004.0,167.00 L2007.0,167.00 L2010.0,167.00 L2013.0,167.00 L2016.0,167.00 L2019.0,167.00 L2022.0,167.00 L2025.0,167.00 L2028.0,167.00 L2031.0,167.01 L2034.0,167.01 L2037.0,167.01 L2040.0,167.01 L2043.0,167.01 L2046.0,167.01 L2049.0,167.01 L2052.0,167.01 L2055.0,167.01 L2058.0,167.01 L2061.0,167.01 L2064.0,167.00 L2067.0,167.00 L2070.0,167.00 L2073.0,167.00 L2076.0,167.00 L2079.0,167.00 L2082.0,167.00 L2085.0,167.00 L2088.0,167.00 L2091.0,167.00 L2094.0,167.00 L2097.0,167.00 L2100.0,167.00 L2103.0,167.00 L2106.0,167.00 L2109.0,167.00 L2112.0,167.00 L2115.0,167.00 L2118.0,167.00 L2121.0,167.00 L2124.0,167.00 L2127.0,167.00 L2130.0,167.00 L2133.0,167.00 L2136.0,167.00 L2139.0,167.00 L2142.0,167.00 L2145.0,167.00 L2148.0,167.00 L2151.0,167.00 L2154.0,167.00 L2157.0,167.00 L2160.0,167.00 L2163.0,167.00 L2166.0,167.00 L2169.0,167.00 L2172.0,167.00 L2175.0,167.00 L2178.0,167.00 L2181.0,167.00 L2184.0,167.00 L2187.0,167.00 L2190.0,167.00 L2193.0,167.00 L2196.0,167.00 L2199.0,167.00 L2202.0,167.00 L2205.0,167.00 L2208.0,167.00 L2211.0,167.00 L2214.0,167.00 L2217.0,167.00 L2220.0,167.00 L2223.0,167.00 L2226.0,167.00 L2229.0,167.00 L2232.0,167.00 L2235.0,167.00 L2238.0,167.00 L2241.0,167.00 L2244.0,167.00 L2247.0,167.00 L2250.0,167.00 L2253.0,167.00 L2256.0,167.00 L2259.0,167.00 L2262.0,167.00 L2265.0,167.00 L2268.0,167.00 L2271.0,167.00 L2274.0,167.00 L2277.0,167.00 L2280.0,167.00 L2283.0,167.00 L2286.0,167.00 L2289.0,167.00 L2292.0,167.00 L2295.0,167.00 L2298.0,167.00 L2301.0,167.00 L2304.0,167.00 L2307.0,167.00 L2310.0,167.00 L2313.0,167.00 L2316.0,167.00 L2319.0,167.00 L2322.0,167.00" stroke="#EDB120"/>
<path d="M312.0,667.32 L315.0,667.05 L318.0,666.79 L321.0,666.52 L324.0,666.25 L327.0,665.96 L330.0,665.66 L333.0,665.34 L336.0,664.99 L339.0,664.62 L342.0,664.22 L345.0,663.78 L348.0,663.30 L351.0,662.77 L354.0,662.20 L357.0,661.59 L360.0,660.92 L363.0,660.21 L366.0,659.44 L369.0,658.63 L372.0,657.76 L375.0,656.85 L378.0,655.87 L381.0,654.84 L384.0,653.75 L387.0,652.59 L390.0,651.37 L393.0,650.09 L396.0,648.74 L399.0,647.31 L402.0,645.82 L405.0,644.24 L408.0,642.59 L411.0,640.86 L414.0,639.06 L417.0,637.18 L420.0,635.22 L423.0,633.19 L426.0,631.09 L429.0,628.92 L432.0,626.68 L435.0,624.37 L438.0,622.00 L441.0,619.56 L444.0,617.07 L447.0,614.51 L450.0,611.91 L453.0,609.25 L456.0,606.56 L459.0,603.82 L462.0,601.04 L465.0,598.23 L468.0,595.39 L471.0,592.51 L474.0,589.59 L477.0,586.64 L480.0,583.65 L483.0,580.62 L486.0,577.56 L489.0,574.46 L492.0,571.32 L495.0,568.14 L498.0,564.93 L501.0,561.70 L504.0,558.43 L507.0,555.15 L510.0,551.84 L513.0,548.51 L516.0,545.18 L519.0,541.83 L522.0,538.47 L525.0,535.11 L528.0,531.75 L531.0,528.39 L534.0,525.03 L537.0,521.68 L540.0,518.35 L543.0,515.03 L546.0,511.72 L549.0,508.43 L552.0,505.15 L555.0,501.88 L558.0,498.63 L561.0,495.40 L564.0,492.18 L567.0,488.97 L570.0,485.78 L573.0,482.61 L576.0,479.45 L579.0,476.30 L582.0,473.17 L585.0,470.05 L588.0,466.95 L591.0,463.86 L594.0,460.79 L597.0,457.73 L600.0,454.68 L603.0,451.65 L606.0,448.63 L609.0,445.63 L612.0,442.64 L615.0,439.66 L618.0,436.69 L621.0,433.73 L624.0,430.79 L627.0,427.86 L630.0,424.94 L633.0,422.03 L636.0,419.12 L639.0,416.23 L642.0,413.35 L645.0,410.48 L648.0,407.62 L651.0,404.77 L654.0,401.93 L657.0,399.10 L660.0,396.29 L663.0,393.48 L666.0,390.69 L669.0,387.91 L672.0,385.15 L675.0,382.40 L678.0,379.66 L681.0,376.94 L684.0,374.23 L687.0,371.54 L690.0,368.86 L693.0,366.20 L696.0,363.56 L699.0,360.93 L702.0,358.32 L705.0,355.72 L708.0,353.15 L711.0,350.59 L714.0,348.05 L717.0,345.53 L720.0,343.03 L723.0,340.54 L726.0,338.08 L729.0,335.63 L732.0,333.21 L735.0,330.80 L738.0,328.42 L741.0,326.06 L744.0,323.71 L747.0,321.39 L750.0,319.09 L753.0,316.80 L756.0,314.53 L759.0,312.28 L762.0,310.04 L765.0,307.81 L768.0,305.60 L771.0,303.40 L774.0,301.21 L777.0,299.03 L780.0,296.86 L783.0,294.70 L786.0,292.54 L789.0,290.39 L792.0,288.24 L795.0,286.11 L798.0,283.97 L801.0,281.85 L804.0,279.73 L807.0,277.62 L810.0,275.53 L813.0,273.44 L816.0,271.37 L819.0,269.31 L822.0,267.27 L825.0,265.24 L828.0,263.23 L831.0,261.24 L834.0,259.26 L837.0,257.31 L840.0,255.38 L843.0,253.47 L846.0,251.58 L849.0,249.72 L852.0,247.88 L855.0,246.07 L858.0,244.28 L861.0,242.51 L864.0,240.76 L867.0,239.02 L870.0,237.30 L873.0,235.59 L876.0,233.89 L879.0,232.19 L882.0,230.50 L885.0,228.82 L888.0,227.13 L891.0,225.45 L894.0,223.76 L897.0,222.07 L900.0,220.38 L903.0,218.70 L906.0,217.01 L909.0,215.34 L912.0,213.66 L915.0,212.00 L918.0,210.35 L921.0,208.70 L924.0,207.07 L927.0,205.45 L930.0,203.85 L933.0,202.26 L936.0,200.69 L939.0,199.14 L942.0,197.61 L945.0,196.10 L948.0,194.61 L951.0,193.15 L954.0,191.71 L957.0,190.29 L960.0,188.89 L963.0,187.50 L966.0,186.14 L969.0,184.78 L972.0,183.44 L975.0,182.12 L978.0,180.80 L981.0,179.50 L984.0,178.20 L987.0,176.91 L990.0,175.63 L993.0,174.35 L996.0,173.07 L999.0,171.80 L1002.0,170.54 L1005.0,169.28 L1008.0,168.02 L1011.0,166.78 L1014.0,165.53 L1017.0,164.30 L1020.0,163.07 L1023.0,161.85 L1026.0,160.63 L1029.0,159.43 L1032.0,158.23 L1035.0,157.03 L1038.0,155.85 L1041.0,154.68 L1044.0,153.51 L1047.0,152.36 L1050.0,151.22 L1053.0,150.10 L1056.0,148.99 L1059.0,147.91 L1062.0,146.83 L1065.0,145.78 L1068.0,144.74 L1071.0,143.71 L1074.0,142.70 L1077.0,141.70 L1080.0,140.71 L1083.0,139.74 L1086.0,138.78 L1089.0,137.83 L1092.0,136.89 L1095.0,135.96 L1098.0,135.05 L1101.0,134.14 L1104.0,133.24 L1107.0,132.36 L1110.0,131.48 L1113.0,130.61 L1116.0,129.75 L1119.0,128.91 L1122.0,128.07 L1125.0,127.24 L1128.0,126.42 L1131.0,125.62 L1134.0,124.82 L1137.0,124.04 L1140.0,123.26 L1143.0,122.50 L1146.0,121.74 L1149.0,121.00 L1152.0,120.27 L1155.0,119.55 L1158.0,118.84 L1161.0,118.14 L1164.0,117.44 L1167.0,116.76 L1170.0,116.09 L1173.0,115.42 L1176.0,114.76 L1179.0,114.11 L1182.0,113.46 L1185.0,112.82 L1188.0,112.19 L1191.0,111.56 L1194.0,110.94 L1197.0,110.32 L1200.0,109.71 L1203.0,109.10 L1206.0,108.49 L1209.0,107.89 L1212.0,107.29 L1215.0,106.70 L1218.0,106.12 L1221.0,105.54 L1224.0,104.96 L1227.0,104.40 L1230.0,103.84 L1233.0,103.29 L1236.0,102.74 L1239.0,102.21 L1242.0,101.68 L1245.0,101.17 L1248.0,100.66 L1251.0,100.17 L1254.0,99.68 L1257.0,99.21 L1260.0,98.74 L1263.0,98.29 L1266.0,97.85 L1269.0,97.42 L1272.0,97.00 L1275.0,96.59 L1278.0,96.19 L1281.0,95.81 L1284.0,95.43 L1287.0,95.07 L1290.0,94.72 L1293.0,94.38 L1296.0,94.06 L1299.0,93.74 L1302.0,93.44 L1305.0,93.16 L1308.0,92.88 L1311.0,92.61 L1314.0,92.35 L1317.0,92.09 L1320.0,91.85 L1323.0,91.60 L1326.0,91.37 L1329.0,91.13 L1332.0,90.91 L1335.0,90.68 L1338.0,90.47 L1341.0,90.26 L1344.0,90.06 L1347.0,89.86 L1350.0,89.67 L1353.0,89.49 L1356.0,89.31 L1359.0,89.14 L1362.0,88.98 L1365.0,88.83 L1368.0,88.68 L1371.0,88.55 L1374.0,88.42 L1377.0,88.30 L1380.0,88.19 L1383.0,88.08 L1386.0,87.99 L1389.0,87.90 L1392.0,87.83 L1395.0,87.76 L1398.0,87.70 L1401.0,87.65 L1404.0,87.60 L1407.0,87.57 L1410.0,87.55 L1413.0,87.53 L1416.0,87.52 L1419.0,87.52 L1422.0,87.53 L1425.0,87.55 L1428.0,87.57 L1431.0,87.61 L1434.0,87.65 L1437.0,87.70 L1440.0,87.76 L1443.0,87.82 L1446.0,87.89 L1449.0,87.97 L1452.0,88.05 L1455.0,88.14 L1458.0,88.23 L1461.0,88.33 L1464.0,88.44 L1467.0,88.54 L1470.0,88.66 L1473.0,88.77 L1476.0,88.89 L1479.0,89.02 L1482.0,89.14 L1485.0,89.27 L1488.0,89.41 L1491.0,89.55 L1494.0,89.70 L1497.0,89.85 L1500.0,90.00 L1503.0,90.17 L1506.0,90.33 L1509.0,90.51 L1512.0,90.69 L1515.0,90.88 L1518.0,91.08 L1521.0,91.28 L1524.0,91.49 L1527.0,91.72 L1530.0,91.94 L1533.0,92.18 L1536.0,92.43 L1539.0,92.68 L1542.0,92.95 L1545.0,93.22 L1548.0,93.50 L1551.0,93.78 L1554.0,94.08 L1557.0,94.38 L1560.0,94.69 L1563.0,95.01 L1566.0,95.34 L1569.0,95.67 L1572.0,96.01 L1575.0,96.36 L1578.0,96.72 L1581.0,97.08 L1584.0,97.45 L1587.0,97.83 L1590.0,98.21 L1593.0,98.60 L1596.0,98.99 L1599.0,99.39 L1602.0,99.79 L1605.0,100.20 L1608.0,100.60 L1611.0,101.02 L1614.0,101.44 L1617.0,101.86 L1620.0,102.29 L1623.0,102.72 L1626.0,103.16 L1629.0,103.60 L1632.0,104.05 L1635.0,104.50 L1638.0,104.96 L1641.0,105.43 L1644.0,105.91 L1647.0,106.39 L1650.0,106.88 L1653.0,107.37 L1656.0,107.87 L1659.0,108.38 L1662.0,108.90 L1665.0,109.43 L1668.0,109.96 L1671.0,110.51 L1674.0,111.06 L1677.0,111.62 L1680.0,112.19 L1683.0,112.77 L1686.0,113.36 L1689.0,113.95 L1692.0,114.56 L1695.0,115.17 L1698.0,115.79 L1701.0,116.41 L1704.0,117.04 L1707.0,117.67 L1710.0,118.31 L1713.0,118.95 L1716.0,119.60 L1719.0,120.24 L1722.0,120.89 L1725.0,121.54 L1728.0,122.19 L1731.0,122.84 L1734.0,123.49 L1737.0,124.14 L1740.0,124.79 L1743.0,125.44 L1746.0,126.10 L1749.0,126.75 L1752.0,127.41 L1755.0,128.08 L1758.0,128.74 L1761.0,129.42 L1764.0,130.09 L1767.0,130.78 L1770.0,131.47 L1773.0,132.16 L1776.0,132.86 L1779.0,133.58 L1782.0,134.30 L1785.0,135.03 L1788.0,135.76 L1791.0,136.51 L1794.0,137.27 L1797.0,138.04 L1800.0,138.82 L1803.0,139.60 L1806.0,140.39 L1809.0,141.19 L1812.0,141.99 L1815.0,142.79 L1818.0,143.60 L1821.0,144.41 L1824.0,145.22 L1827.0,146.03 L1830.0,146.84 L1833.0,147.65 L1836.0,148.46 L1839.0,149.26 L1842.0,150.06 L1845.0,150.86 L1848.0,151.65 L1851.0,152.45 L1854.0,153.23 L1857.0,154.01 L1860.0,154.79 L1863.0,155.56 L1866.0,156.33 L1869.0,157.09 L1872.0,157.84 L1875.0,158.58 L1878.0,159.30 L1881.0,160.00 L1884.0,160.67 L1887.0,161.31 L1890.0,161.91 L1893.0,162.48 L1896.0,163.00 L1899.0,163.48 L1902.0,163.92 L1905.0,164.33 L1908.0,164.69 L1911.0,165.02 L1914.0,165.33 L1917.0,165.60 L1920.0,165.84 L1923.0,166.05 L1926.0,166.24 L1929.0,166.41 L1932.0,166.56 L1935.0,166.68 L1938.0,166.79 L1941.0,166.88 L1944.0,166.95 L1947.0,167.01 L1950.0,167.05 L1953.0,167.08 L1956.0,167.11 L1959.0,167.12 L1962.0,167.13 L1965.0,167.13 L1968.0,167.13 L1971.0,167.13 L1974.0,167.12 L1977.0,167.11 L1980.0,167.10 L1983.0,167.09 L1986.0,167.08 L1989.0,167.07 L1992.0,167.06 L1995.0,167.05 L1998.0,167.04 L2001.0,167.03 L2004.0,167.02 L2007.0,167.01 L2010.0,167.01 L2013.0,167.00 L2016.0,166.99 L2019.0,166.99 L2022.0,166.98 L2025.0,166.98 L2028.0,166.98 L2031.0,166.97 L2034.0,166.97 L2037.0,166.97 L2040.0,166.97 L2043.0,166.97 L2046.0,166.97 L2049.0,166.97 L2052.0,166.97 L2055.0,166.97 L2058.0,166.97 L2061.0,166.97 L2064.0,166.97 L2067.0,166.97 L2070.0,166.97 L2073.0,166.98 L2076.0,166.98 L2079.0,166.98 L2082.0,166.98 L2085.0,166.99 L2088.0,166.99 L2091.0,166.99 L2094.0,166.99 L2097.0,166.99 L2100.0,167.00 L2103.0,167.00 L2106.0,167.00 L2109.0,167.00 L2112.0,167.00 L2115.0,167.00 L2118.0,167.00 L2121.0,167.00 L2124.0,167.01 L2127.0,167.01 L2130.0,167.01 L2133.0,167.01 L2136.0,167.01 L2139.0,167.01 L2142.0,167.01 L2145.0,167.01 L2148.0,167.01 L2151.0,167.01 L2154.0,167.01 L2157.0,167.01 L2160.0,167.01 L2163.0,167.01 L2166.0,167.01 L2169.0,167.01 L2172.0,167.01 L2175.0,167.00 L2178.0,167.00 L2181.0,167.00 L2184.0,167.00 L2187.0,167.00 L2190.0,167.00 L2193.0,167.00 L2196.0,167.00 L2199.0,167.00 L2202.0,167.00 L2205.0,167.00 L2208.0,167.00 L2211.0,167.00 L2214.0,167.00 L2217.0,167.00 L2220.0,167.00 L2223.0,167.00 L2226.0,167.00 L2229.0,167.00 L2232.0,167.00 L2235.0,167.00 L2238.0,167.00 L2241.0,167.00 L2244.0,167.00 L2247.0,167.00 L2250.0,167.00 L2253.0,167.00 L2256.0,167.00 L2259.0,167.00 L2262.0,167.00 L2265.0,167.00 L2268.0,167.00 L2271.0,167.00 L2274.0,167.00 L2277.0,167.00 L2280.0,167.00 L2283.0,167.00 L2286.0,167.00 L2289.0,167.00 L2292.0,167.00 L2295.0,167.00 L2298.0,167.00 L2301.0,167.00 L2304.0,167.00 L2307.0,167.00 L2310.0,167.00 L2313.0,167.00 L2316.0,167.00 L2319.0,167.00 L2322.0,167.00" stroke="#7E2F8E"/>
</g>
<line x1="316.5" y1="167.00" x2="2317" y2="167.00" stroke="#000" stroke-width="4" stroke-dasharray="50.5 29.5"/>
<g class="tk" text-anchor="middle">
<text x="315.4" y="764.0">0</text>
<text x="541.6" y="764.0">5</text>
<text x="771.5" y="764.0">10</text>
<text x="998.3" y="764.0">15</text>
<text x="1223.9" y="764.0">20</text>
<text x="1450.7" y="764.0">25</text>
<text x="1679.8" y="764.0">30</text>
<text x="1906.1" y="764.0">35</text>
<text x="2133.9" y="764.0">40</text>
</g>
<g class="tk" text-anchor="end">
<text x="290.2" y="694.8">19</text>
<text x="290.2" y="444.8">19.5</text>
<text x="289.0" y="194.8">20</text>
</g>
<text class="lb" x="1311.7" y="865.7" text-anchor="middle">time (h)</text>
<text class="tex" style="font-size:100px" transform="translate(50.94,316.16) scale(0.7874,0.7247)">y</text>
<text class="tex" style="font-size:100px" transform="translate(93.12,317.06) scale(0.7242,0.8382)">(</text>
<text class="tex" style="font-size:100px" transform="translate(117.08,311.48) scale(0.6728,0.6794)">°</text>
<text class="tex" style="font-size:100px" transform="translate(147.52,317.28) scale(0.8234,0.8365)">C</text>
<text class="tex" style="font-size:100px" transform="translate(201.63,317.06) scale(0.7359,0.8382)">)</text>
<g fill="#262626">
<rect x="314.2" y="980.0" width="4.6" height="659.0"/>
<rect x="314.2" y="1635.0" width="2004.6" height="4"/>
<rect x="314.50" y="1615.0" width="4" height="22"/>
<rect x="541.77" y="1615.0" width="4" height="22"/>
<rect x="769.05" y="1615.0" width="4" height="22"/>
<rect x="996.32" y="1615.0" width="4" height="22"/>
<rect x="1223.59" y="1615.0" width="4" height="22"/>
<rect x="1450.86" y="1615.0" width="4" height="22"/>
<rect x="1678.14" y="1615.0" width="4" height="22"/>
<rect x="1905.41" y="1615.0" width="4" height="22"/>
<rect x="2132.68" y="1615.0" width="4" height="22"/>
<rect x="316.5" y="1635.00" width="22" height="4"/>
<rect x="316.5" y="1471.25" width="22" height="4"/>
<rect x="316.5" y="1307.50" width="22" height="4"/>
<rect x="316.5" y="1143.75" width="22" height="4"/>
<rect x="316.5" y="980.00" width="22" height="4"/>
</g>
<g clip-path="url(#cB)" fill="none" stroke-width="13.75" stroke-linejoin="round" stroke-linecap="round" shape-rendering="crispEdges">
<path d="M316.50,982.00 L407.41,982.00 L407.41,1047.50 L430.14,1047.50 L430.14,1637.00 L1361.95,1637.00 L1361.95,1428.71 L1384.68,1428.71 L1384.68,1637.00 L1430.14,1637.00 L1430.14,1570.35 L1452.86,1570.35 L1452.86,1575.27 L1475.59,1575.27 L1475.59,1602.94 L1498.32,1602.94 L1498.32,1589.02 L1521.05,1589.02 L1521.05,1591.81 L1566.50,1591.81 L1566.50,1591.41 L2316.50,1591.41" stroke="#0072BD"/>
<path d="M316.50,982.00 L430.14,982.00 L430.14,1622.72 L452.86,1622.72 L452.86,1637.00 L1543.77,1637.00 L1543.77,1512.22 L1566.50,1512.22 L1566.50,1152.63 L1589.23,1152.63 L1589.23,1611.13 L1611.95,1611.13 L1611.95,1637.00 L1680.14,1637.00 L1680.14,1550.54 L1702.86,1550.54 L1702.86,1608.84 L1725.59,1608.84 L1725.59,1587.65 L1748.32,1587.65 L1748.32,1592.62 L1771.05,1592.62 L1771.05,1591.41 L2316.50,1591.41" stroke="#D95319"/>
<path d="M316.50,982.00 L430.14,982.00 L430.14,1457.20 L452.86,1457.20 L452.86,1637.00 L1748.32,1637.00 L1748.32,1411.35 L1771.05,1411.35 L1771.05,982.00 L1793.77,982.00 L1793.77,1591.48 L1816.50,1591.48 L1816.50,1637.00 L1884.68,1637.00 L1884.68,1622.72 L1907.41,1622.72 L1907.41,1554.14 L1930.14,1554.14 L1930.14,1607.69 L1952.86,1607.69 L1952.86,1587.65 L1975.59,1587.65 L1975.59,1591.94 L1998.32,1591.94 L1998.32,1591.41 L2316.50,1591.41" stroke="#EDB120"/>
<path d="M316.50,982.00 L430.14,982.00 L430.14,1358.30 L452.86,1358.30 L452.86,1637.00 L1839.23,1637.00 L1839.23,1500.43 L1861.95,1500.43 L1861.95,982.00 L1884.68,982.00 L1884.68,1380.89 L1907.41,1380.89 L1907.41,1637.00 L2021.05,1637.00 L2021.05,1501.61 L2043.77,1501.61 L2043.77,1637.00 L2066.50,1637.00 L2066.50,1581.16 L2089.23,1581.16 L2089.23,1592.53 L2111.95,1592.53 L2111.95,1591.41 L2316.50,1591.41" stroke="#7E2F8E"/>
</g>
<g class="tk" text-anchor="middle">
<text x="315.4" y="1734.0">0</text>
<text x="541.6" y="1734.0">5</text>
<text x="771.5" y="1734.0">10</text>
<text x="998.3" y="1734.0">15</text>
<text x="1223.9" y="1734.0">20</text>
<text x="1450.7" y="1734.0">25</text>
<text x="1679.8" y="1734.0">30</text>
<text x="1906.1" y="1734.0">35</text>
<text x="2133.9" y="1734.0">40</text>
</g>
<g class="tk" text-anchor="end">
<text x="286.8" y="1664.8">0</text>
<text x="290.4" y="1501.0">500</text>
<text x="292.7" y="1337.3">1000</text>
<text x="292.4" y="1173.5">1500</text>
<text x="292.5" y="1009.8">2000</text>
</g>
<text class="lb" x="1311.7" y="1835.3" text-anchor="middle">time (h)</text>
<text class="tex" style="font-size:100px" transform="translate(21.70,1268.09) scale(0.8345,0.7232)">u</text>
<text class="tex" style="font-size:100px" transform="translate(89.98,1268.67) scale(0.7320,0.8327)">(</text>
<text class="tex" style="font-size:100px" transform="translate(116.02,1268.39) scale(0.7939,0.8001)">W</text>
<text class="tex" style="font-size:100px" transform="translate(191.89,1268.67) scale(0.7164,0.8327)">)</text>
<line x1="750.8" y1="1101.9" x2="901.8" y2="1101.9" stroke="#0072BD" stroke-width="13.75" shape-rendering="crispEdges"/>
<text class="lg" x="931.4" y="1127.0" xml:space="preserve">M = 1</text>
<line x1="750.8" y1="1216.7" x2="901.8" y2="1216.7" stroke="#D95319" stroke-width="13.75" shape-rendering="crispEdges"/>
<text class="lg" x="931.4" y="1241.8" xml:space="preserve">M = 6</text>
<line x1="750.8" y1="1332.0" x2="901.8" y2="1332.0" stroke="#EDB120" stroke-width="13.75" shape-rendering="crispEdges"/>
<text class="lg" x="931.4" y="1357.1" xml:space="preserve">M = 12</text>
<line x1="750.8" y1="1447.3" x2="901.8" y2="1447.3" stroke="#7E2F8E" stroke-width="13.75" shape-rendering="crispEdges"/>
<text class="lg" x="931.4" y="1472.4" xml:space="preserve">M  = 18</text>
</svg></body></html>
